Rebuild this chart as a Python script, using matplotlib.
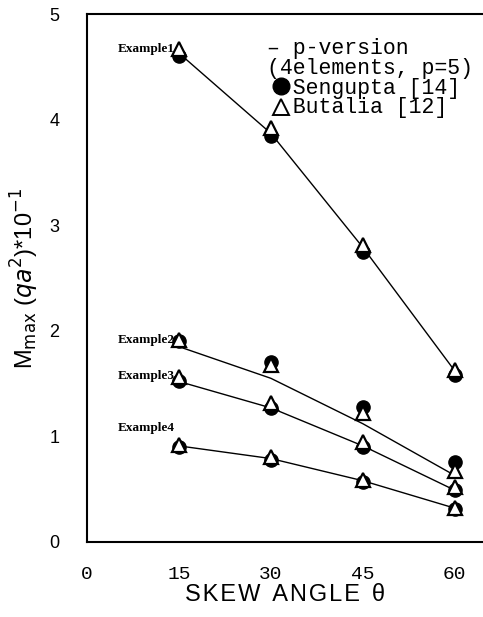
import matplotlib
matplotlib.use('Agg')
import matplotlib.pyplot as plt
from matplotlib.lines import Line2D

angles = [15, 30, 45, 60]
examples = ['Example1', 'Example2', 'Example3', 'Example4']

# p-version (4 elements, p=5)
pver = [
    [4.63, 3.87, 2.79, 1.62],
    [1.85, 1.55, 1.12, 0.63],
    [1.52, 1.27, 0.91, 0.49],
    [0.91, 0.79, 0.58, 0.32],
]
# Sengupta [14]
sengupta = [
    [4.60, 3.84, 2.75, 1.58],
    [1.90, 1.70, 1.28, 0.76],
    [1.52, 1.27, 0.90, 0.49],
    [0.90, 0.78, 0.57, 0.31],
]
# Butalia [12]
butalia = [
    [4.67, 3.92, 2.81, 1.63],
    [1.91, 1.68, 1.22, 0.67],
    [1.56, 1.32, 0.95, 0.52],
    [0.92, 0.80, 0.59, 0.32],
]
label_y = [4.67, 1.91, 1.57, 1.08]

xticks = [0, 15, 30, 45, 60]
yticks = [0, 1, 2, 3, 4, 5]

fig = plt.figure(figsize=(4.83, 6.17), dpi=100)
ax = fig.add_axes([0.180, 0.1216, 0.820, 0.8557])

for i in range(len(examples)):
    ax.plot(angles, pver[i], color='black', lw=1.0, zorder=2)
    ax.plot(angles, sengupta[i], 'o', color='black', ms=9.5, zorder=3)
    ax.plot(angles, butalia[i], '^', mfc='white', mec='black', mew=1.6, ms=9.5, zorder=4)
    ax.text(14.4, label_y[i], examples[i], ha='right', va='center',
            fontsize=9.5, fontweight='bold', family='Liberation Serif')

ax.set_xlim(0, 64.6)
ax.set_ylim(0, 5)
ax.set_xticks(xticks)
ax.set_yticks(yticks)
ax.tick_params(length=0)
ax.tick_params(axis='y', pad=20, labelsize=13)
ax.tick_params(axis='x', pad=17, labelsize=14)
for lab in ax.get_xticklabels():
    lab.set_family('Liberation Mono')
for lab in ax.get_yticklabels():
    lab.set_family('Liberation Sans')
for s in ['left', 'bottom', 'top']:
    ax.spines[s].set_linewidth(1.5)
ax.spines['right'].set_visible(False)

ax.set_xlabel('S K E W  A N G L E  \u03b8'.replace('  ', '\u2002').replace(' ', '\u200a'),
              fontsize=17, family='Liberation Sans', labelpad=1)
ax.set_ylabel(r'M$_{\rm max}$ ($qa^2$)*10$^{-1}$', fontsize=17,
              family='Liberation Sans', labelpad=6)

# legend: one text block, marker symbols drawn by a label-less legend
legend_text = ('\u2013 p-version\n(4elements, p=5)\n'
               '  Sengupta [14]\n  Butalia [12]')
ax.text(0.455, 0.954, legend_text, transform=ax.transAxes,
        ha='left', va='top', fontsize=15.5, linespacing=0.92,
        family='Liberation Mono')
handles = [
    Line2D([], [], marker='o', color='black', ls='none', ms=12),
    Line2D([], [], marker='^', mfc='white', mec='black', mew=1.4, ls='none', ms=11),
]
ax.legend(handles, ['', ''], loc='upper left',
          bbox_to_anchor=(0.445, 0.901), frameon=False, handlelength=0.7,
          handletextpad=0.0, labelspacing=0.0, borderpad=0,
          prop={'family': 'Liberation Mono', 'size': 15.5})

fig.savefig('out.png', dpi=100)
